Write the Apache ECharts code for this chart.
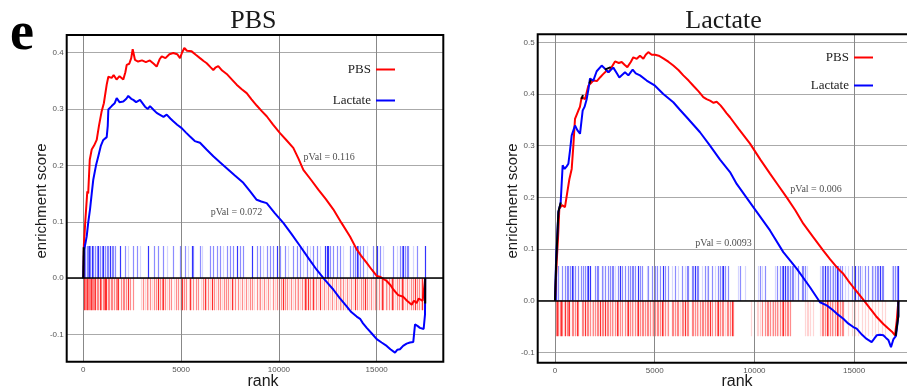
<!DOCTYPE html>
<html>
<head>
<meta charset="utf-8">
<script src="https://cdn.jsdelivr.net/npm/echarts@6/dist/echarts.min.js"></script>
<style>html,body{margin:0;padding:0;background:#fff}#c{width:907px;height:389px}</style>
</head>
<body>
<div id="c"></div>
<script>
// ---------------- DATA ----------------
const panelTitles = ['PBS', 'Lactate'];
const seriesNames = ['PBS', 'Lactate'];
const xAxisTitle = 'rank';
const yAxisTitle = 'enrichment score';
const xTicks = [0, 5000, 10000, 15000];
const p1YTicks = [-0.1, 0, 0.1, 0.2, 0.3, 0.4];
const p2YTicks = [-0.1, 0, 0.1, 0.2, 0.3, 0.4, 0.5];

// Panel 1 (PBS) running enrichment scores [rank, score]
const p1PbsCurve = [[0,0],[30,0.06],[100,0.1],[205,0.154],[250,0.15],[330,0.21],[430,0.228],[550,0.235],[685,0.245],[800,0.27],[940,0.296],[1050,0.31],[1196,0.343],[1280,0.357],[1450,0.355],[1550,0.36],[1700,0.352],[1850,0.358],[2045,0.352],[2150,0.365],[2220,0.378],[2350,0.38],[2450,0.39],[2525,0.406],[2640,0.387],[2800,0.384],[3000,0.386],[3200,0.383],[3400,0.386],[3600,0.38],[3750,0.375],[3900,0.388],[4010,0.393],[4200,0.39],[4400,0.397],[4600,0.399],[4800,0.397],[4945,0.39],[5050,0.4],[5165,0.408],[5300,0.403],[5540,0.402],[5750,0.396],[5966,0.39],[6150,0.385],[6310,0.381],[6500,0.374],[6646,0.369],[6750,0.373],[6900,0.376],[7100,0.368],[7330,0.362],[7600,0.352],[7840,0.343],[8100,0.335],[8353,0.328],[8600,0.317],[8865,0.306],[9100,0.297],[9376,0.287],[9700,0.272],[10056,0.257],[10400,0.244],[10736,0.231],[11000,0.212],[11250,0.192],[11650,0.174],[12015,0.157],[12400,0.14],[12780,0.122],[13200,0.098],[13635,0.074],[13977,0.051],[14200,0.04],[14490,0.027],[14750,0.015],[15000,0.004],[15200,0.002],[15510,-0.005],[15700,-0.012],[15850,-0.02],[16100,-0.03],[16360,-0.033],[16550,-0.04],[16790,-0.047],[16900,-0.04],[17040,-0.044],[17150,-0.036],[17250,-0.035],[17350,-0.04],[17450,-0.037],[17480,0]];
const p1LacCurve = [[0,0],[36,0.051],[100,0.06],[174,0.074],[256,0.1],[343,0.122],[430,0.15],[511,0.175],[650,0.2],[767,0.216],[900,0.235],[1022,0.245],[1196,0.25],[1250,0.27],[1280,0.299],[1450,0.305],[1600,0.31],[1707,0.319],[1850,0.312],[2045,0.313],[2200,0.318],[2300,0.323],[2450,0.318],[2556,0.316],[2700,0.312],[2900,0.316],[3155,0.304],[3300,0.3],[3410,0.305],[3600,0.298],[3750,0.293],[3900,0.29],[4100,0.286],[4264,0.29],[4450,0.283],[4600,0.278],[4800,0.272],[5030,0.266],[5250,0.258],[5455,0.251],[5700,0.243],[5966,0.24],[6300,0.228],[6646,0.216],[7000,0.205],[7330,0.195],[7750,0.182],[8180,0.169],[8500,0.155],[8865,0.139],[9100,0.136],[9376,0.133],[9800,0.115],[10225,0.098],[10650,0.078],[11080,0.057],[11500,0.036],[11930,0.015],[12350,-0.003],[12780,-0.02],[13100,-0.035],[13465,-0.05],[13700,-0.06],[13977,-0.068],[14150,-0.072],[14300,-0.08],[14490,-0.088],[14750,-0.098],[15000,-0.108],[15250,-0.114],[15510,-0.12],[15700,-0.126],[15935,-0.132],[16050,-0.127],[16190,-0.126],[16350,-0.12],[16530,-0.116],[16700,-0.114],[16870,-0.113],[16960,-0.082],[17100,-0.085],[17210,-0.088],[17400,-0.09],[17470,-0.064],[17480,0]];
const p1Overlap = [[[0,0],[20,0.055]], [[17480,-0.045],[17480,0]]];

// Panel 1 gene-set hit ranks (barcode), grouped by intensity
const p1LacHitsStrong = [34,300,420,760,1030,1363,1875,3323,5538,7873,8606,9884,12355,12440,12526,13974,14997,16360,17467];
const p1LacHitsMedium = [100,170,230,360,511,600,680,852,940,1120,1200,1280,1450,1540,1619,2130,2556,2727,3613,3834,4090,4601,4942,5198,5624,5965,6476,6646,6817,6987,7328,7498,7669,8010,8180,8862,9032,9373,9543,9714,10055,10310,10736,10907,11077,11418,11759,11929,12611,12781,12952,13122,13633,13804,13889,14059,14145,14315,14826,15167,15849,16189,16275,16445,16530,16616,17041];
const p1LacHitsLight = [2300,2897,4260,5368,6050,7157,9202,10481,11247,11588,12100,13292,14485,15337,16019,16871];
const p1PbsHitsStrong = [30,172,400,598,854,1109,1180,1791,2302,3835,4091,5028,5454,6221,6562,7584,10226,11335,11500,11761,12100,13890,14402,15254,15766,16277,16959,17300];
const p1PbsHitsMedium = [80,130,230,290,340,450,500,560,680,740,920,990,1050,1250,1320,1400,1480,1560,1650,1740,1920,2010,2100,2200,2400,2520,3050,3250,3420,3600,3700,3900,4000,4200,4400,4500,4720,4820,5150,5250,5620,5750,5880,6100,6400,6700,6900,7000,7200,7300,7400,7780,7900,8100,8300,8500,8620,8860,9050,9250,9450,9680,9900,10100,10300,10400,10600,10800,11000,11200,11400,11600,11900,12300,12500,12700,12900,13100,13300,13500,13700,14000,14200,14300,14500,14700,14900,15100,15300,15450,15650,15850,16050,16150,16350,16550,16750,16850,17050,17150,17400];
const p1PbsHitsLight = [2960,3150,3330,3500,3800,4300,4620,4930,5380,5500,6000,6250,6500,6600,6800,7100,7520,7650,8000,8200,8400,8750,8960,9150,9350,9560,9800,10000,10200,10500,10700,10900,11100,11300,11700,11800,12000,12200,12400,12600,12800,13000,13200,13400,13600,13800,14100,14400,14600,14800,15000,15200,15550,15750,15950,16250,16450,16650,17250];

// Panel 2 (Lactate)
const p2PbsCurve = [[0,0],[84,0.075],[150,0.12],[217,0.178],[350,0.185],[500,0.181],[617,0.21],[720,0.235],[837,0.255],[920,0.3],[1003,0.352],[1170,0.368],[1250,0.375],[1337,0.394],[1505,0.39],[1600,0.405],[1672,0.416],[1922,0.426],[2100,0.425],[2257,0.432],[2400,0.438],[2590,0.445],[2700,0.442],[2843,0.452],[3010,0.463],[3200,0.46],[3344,0.462],[3500,0.456],[3627,0.452],[3800,0.462],[3928,0.471],[4100,0.468],[4262,0.474],[4430,0.468],[4550,0.476],[4680,0.481],[4850,0.476],[5015,0.476],[5200,0.474],[5430,0.469],[5700,0.462],[5932,0.455],[6200,0.446],[6434,0.436],[6700,0.426],[6936,0.416],[7200,0.405],[7437,0.394],[7600,0.39],[7773,0.387],[7950,0.383],[8107,0.385],[8300,0.378],[8441,0.371],[8600,0.363],[8776,0.355],[9200,0.333],[9780,0.304],[10300,0.273],[10782,0.246],[11200,0.223],[11619,0.2],[12050,0.175],[12452,0.149],[12950,0.123],[13455,0.097],[13800,0.08],[14127,0.065],[14300,0.058],[14459,0.052],[14700,0.039],[14960,0.026],[15400,0.005],[15797,-0.015],[16100,-0.03],[16465,-0.045],[16716,-0.054],[16900,-0.06],[17051,-0.067],[17135,-0.04],[17220,0]];
const p2LacCurve = [[0,0],[50,0.075],[167,0.171],[284,0.19],[384,0.262],[480,0.255],[585,0.26],[670,0.265],[750,0.29],[837,0.32],[1003,0.339],[1120,0.33],[1254,0.323],[1387,0.368],[1480,0.375],[1588,0.39],[1680,0.41],[1755,0.43],[1922,0.426],[2090,0.444],[2340,0.455],[2507,0.449],[2674,0.442],[2925,0.451],[3100,0.44],[3226,0.432],[3400,0.438],[3511,0.442],[3678,0.436],[3895,0.447],[4050,0.44],[4262,0.436],[4597,0.426],[5015,0.416],[5430,0.4],[5932,0.384],[6250,0.37],[6604,0.355],[6950,0.34],[7272,0.326],[7773,0.3],[8275,0.273],[8776,0.249],[9112,0.226],[9945,0.181],[10782,0.136],[11449,0.094],[12121,0.062],[12788,0.026],[13290,-0.003],[13625,-0.009],[13900,-0.017],[14127,-0.025],[14459,-0.035],[14700,-0.044],[14960,-0.051],[15127,-0.054],[15400,-0.066],[15630,-0.074],[15880,-0.08],[16000,-0.074],[16133,-0.067],[16300,-0.066],[16465,-0.067],[16600,-0.072],[16716,-0.076],[16850,-0.09],[16967,-0.075],[17100,-0.068],[17218,-0.03],[17220,0]];
const p2Overlap = [[[0,0],[60,0.075],[170,0.172],[290,0.19],[320,0.19]], [[1330,0.39],[1400,0.398]], [[1720,0.42],[1800,0.428]], [[2500,0.447],[2800,0.452]], [[17080,-0.068],[17218,-0.03],[17220,0]]];

const p2LacHitsStrong = [50,836,1672,1755,3260,4179,5433,7021,8442,11451,11535,13541,14126,15045,16299,17218];
const p2LacHitsMedium = [167,334,501,585,669,752,919,1003,1170,1304,1421,1505,1588,2006,2090,2173,2340,2507,2675,2758,2842,2925,3176,3343,3511,3678,3761,3845,3928,4012,4263,4346,4681,4848,5015,5099,5266,5517,5684,6018,6352,6603,6687,6854,6937,7105,7188,7523,7690,7857,8191,8275,8358,8526,8693,9278,10281,10532,11117,11284,11367,11618,11702,11785,11869,11953,12203,12370,12454,12538,13373,13457,13624,13708,13791,13959,14042,14209,14293,14376,14878,15212,15296,15547,15714,15881,16048,16132,16215,16383,16466,16968,17051,17135];
const p2LacHitsLight = [2424,3009,4597,5851,6185,6520,7356,7606,8024,9194,9529,10197,10365,11033,12036,12621,13290,13875,14544,14711,15380,15965,16884];
const p2PbsHitsStrong = [110,300,510,720,1090,1500,2250,2500,3100,3680,4180,5350,6520,7770,8190,8860,11450,13620,14130];
const p2PbsHitsMedium = [50,170,230,370,580,650,836,920,1003,1170,1337,1420,1590,1672,1760,1920,2006,2090,2170,2340,2420,2590,2680,2760,2840,3010,3180,3260,3343,3511,3600,3760,3850,4010,4100,4260,4346,4430,4520,4600,4680,4770,4930,5015,5099,5180,5270,5430,5520,5684,5851,5930,6020,6100,6190,6350,6440,6600,6687,6854,6940,7020,7110,7270,7360,7440,7520,7610,7690,7857,8024,8110,8270,8360,8440,8610,8690,8770,8943,10365,10532,10610,10700,10780,10950,11030,11120,11280,11370,11530,11620,11700,11785,13370,13460,13540,13710,13790,13870,14040,14210,14290,14380,14460];
const p2PbsHitsLight = [440,1840,2930,3930,4850,5600,6270,7190,8520,9813,10114,10200,10280,10870,11200,12538,12620,12700,12788,12955,13290,13960,14711,14880,15050,15210,15380,15550,15710,15880,16050,16210,16380,16550];

// p-value annotations: [text, rank, score]
const p1PvalLabels = [['pVal = 0.116', 12570, 0.215], ['pVal = 0.072', 7830, 0.116]];
const p2PvalLabels = [['pVal = 0.006', 13090, 0.215], ['pVal = 0.0093', 8450, 0.111]];

// ---------------- CHART ----------------
const SERIF = 'Liberation Serif, Times New Roman, serif';
const SANS = 'Liberation Sans, Arial, sans-serif';
const BLUE_RGB = '0,0,255', RED_RGB = '255,0,0';
const OPA = {strong: 0.8, medium: 0.45, light: 0.16};

function hitSeries(g, ranks, top, rgb, opacity) {
  const stroke = 'rgba(' + rgb + ',' + opacity + ')';
  return {
    type: 'custom', xAxisIndex: g, yAxisIndex: g, silent: true, clip: true, z: 1,
    data: ranks.map(r => [r, top]),
    renderItem: function (params, api) {
      const p0 = api.coord([api.value(0), 0]);
      const p1 = api.coord([api.value(0), api.value(1)]);
      const x = Math.round(p0[0]) + 0.5;
      return {type: 'line', shape: {x1: x, y1: p0[1], x2: x, y2: p1[1]},
        style: {stroke: stroke, lineWidth: 1.2, fill: null}};
    }
  };
}
function curve(g, name, data, color, extra) {
  return Object.assign({
    type: 'line', name: name, xAxisIndex: g, yAxisIndex: g, data: data,
    symbol: 'none', showSymbol: false, silent: true, z: 3,
    lineStyle: {color: color, width: 2}, itemStyle: {color: color}
  }, extra || {});
}
function blackSegs(g, segs) {
  return segs.map(s => ({type: 'line', xAxisIndex: g, yAxisIndex: g, data: s, symbol: 'none',
    silent: true, z: 4, lineStyle: {color: '#000', width: 2}}));
}
function pvalSeries(g, labels) {
  return {
    type: 'scatter', xAxisIndex: g, yAxisIndex: g, silent: true, z: 5, symbolSize: 0,
    data: labels.map(l => [l[1], l[2], l[0]]),
    label: {show: true, position: 'inside', formatter: p => p.data[2],
      fontFamily: SERIF, fontSize: 10, color: '#222'}
  };
}
function zeroLine() {
  return {silent: true, symbol: 'none', label: {show: false},
    lineStyle: {color: '#000', width: 1.5, type: 'solid'}, data: [{yAxis: 0}]};
}
function xAxis(g, min, max) {
  return {
    gridIndex: g, type: 'value', min: min, max: max,
    axisLine: {show: false},
    axisTick: {show: false, customValues: xTicks},
    axisLabel: {customValues: xTicks, fontSize: 8, color: '#555', fontFamily: SANS, margin: 4,
      formatter: v => String(v)},
    splitLine: {show: true, lineStyle: {color: '#888', width: 1}}
  };
}
function yAxis(g, min, max, ticks) {
  return {
    gridIndex: g, type: 'value', min: min, max: max,
    axisLine: {show: false},
    axisTick: {show: false, customValues: ticks},
    axisLabel: {customValues: ticks, fontSize: 8, color: '#555', fontFamily: SANS, margin: 3,
      formatter: v => v.toFixed(1)},
    splitLine: {show: true, lineStyle: {color: '#aaa', width: 1}}
  };
}

const series = [
  // panel 1
  hitSeries(0, p1LacHitsLight, 0.057, BLUE_RGB, OPA.light),
  hitSeries(0, p1LacHitsMedium, 0.057, BLUE_RGB, OPA.medium),
  hitSeries(0, p1LacHitsStrong, 0.057, BLUE_RGB, OPA.strong),
  hitSeries(0, p1PbsHitsLight, -0.057, RED_RGB, OPA.light),
  hitSeries(0, p1PbsHitsMedium, -0.057, RED_RGB, OPA.medium),
  hitSeries(0, p1PbsHitsStrong, -0.057, RED_RGB, OPA.strong),
  curve(0, seriesNames[0], p1PbsCurve, '#ff0000', {markLine: zeroLine()}),
  curve(0, seriesNames[1], p1LacCurve, '#0000ff'),
  ...blackSegs(0, p1Overlap),
  pvalSeries(0, p1PvalLabels),
  // panel 2
  hitSeries(1, p2LacHitsLight, 0.067, BLUE_RGB, OPA.light),
  hitSeries(1, p2LacHitsMedium, 0.067, BLUE_RGB, OPA.medium),
  hitSeries(1, p2LacHitsStrong, 0.067, BLUE_RGB, OPA.strong),
  hitSeries(1, p2PbsHitsLight, -0.069, RED_RGB, OPA.light),
  hitSeries(1, p2PbsHitsMedium, -0.069, RED_RGB, OPA.medium),
  hitSeries(1, p2PbsHitsStrong, -0.069, RED_RGB, OPA.strong),
  curve(1, seriesNames[0], p2PbsCurve, '#ff0000', {markLine: zeroLine()}),
  curve(1, seriesNames[1], p2LacCurve, '#0000ff'),
  ...blackSegs(1, p2Overlap),
  pvalSeries(1, p2PvalLabels)
];

const legendBase = {
  data: seriesNames, orient: 'vertical', align: 'right', selectedMode: false,
  icon: 'rect', itemWidth: 19, itemHeight: 2,
  textStyle: {fontFamily: SERIF, fontSize: 13, color: '#222'}
};

function gtext(x, y, text, font, rot) {
  return {type: 'text', x: x, y: y, rotation: rot || 0,
    style: {text: text, font: font, fill: '#1a1a1a', align: 'center', verticalAlign: 'middle'}};
}

const chart = echarts.init(document.getElementById('c'), null, {renderer: 'canvas'});
chart.setOption({
  animation: false,
  backgroundColor: '#fff',
  grid: [
    {left: 66.7, top: 35, width: 376.6, height: 326.7, show: true, borderColor: '#000', borderWidth: 2, backgroundColor: 'rgba(0,0,0,0)', z: 6, outerBoundsMode: 'none', containLabel: false},
    {left: 537.7, top: 34.3, width: 384.2, height: 328.4, show: true, borderColor: '#000', borderWidth: 2, backgroundColor: 'rgba(0,0,0,0)', z: 6, outerBoundsMode: 'none', containLabel: false}
  ],
  xAxis: [xAxis(0, -849, 18405), xAxis(1, -868, 18400)],
  yAxis: [yAxis(0, -0.148, 0.431, p1YTicks), yAxis(1, -0.12, 0.5155, p2YTicks)],
  legend: [
    Object.assign({}, legendBase, {right: 507, top: 58, itemGap: 18}),
    Object.assign({}, legendBase, {right: 29, top: 46, itemGap: 15})
  ],
  graphic: [
    {type: 'text', x: 10, y: 35, style: {text: 'e', font: 'bold 54px ' + SERIF, fill: '#000', align: 'left', verticalAlign: 'middle'}},
    gtext(253.3, 21.5, panelTitles[0], '26px ' + SERIF),
    gtext(723.5, 21.5, panelTitles[1], '26px ' + SERIF),
    gtext(42, 201, yAxisTitle, '15px ' + SANS, Math.PI / 2),
    gtext(513, 201, yAxisTitle, '15px ' + SANS, Math.PI / 2),
    gtext(263, 382, xAxisTitle, '16px ' + SANS),
    gtext(737, 382, xAxisTitle, '16px ' + SANS)
  ],
  series: series
});
</script>
</body>
</html>
